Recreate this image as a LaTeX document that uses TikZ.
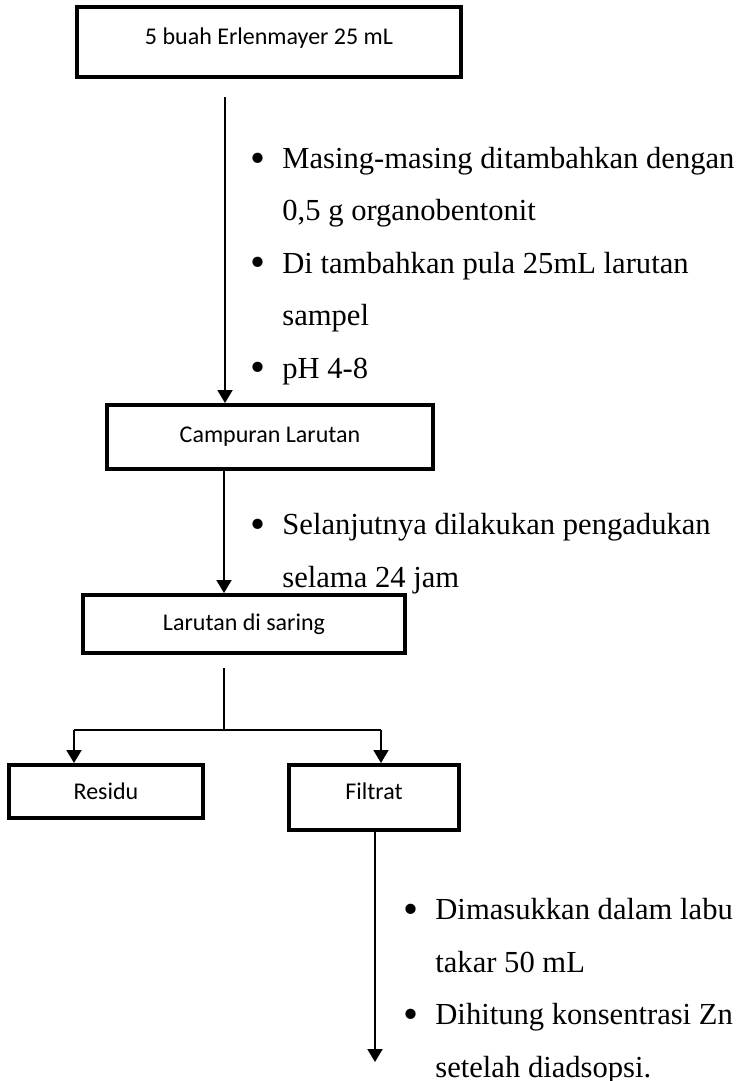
\documentclass[tikz,border=0pt]{standalone}
\usepackage{fontspec}
\setmainfont{Liberation Serif}
\newfontfamily\boxfont{Carlito}
\usetikzlibrary{arrows.meta,positioning}
\newcommand{\bul}{\makebox[16pt][l]{\raisebox{-0.12em}{\scalebox{1.4}{\textbullet}}}}
\newcommand{\ind}{\hspace*{16pt}}
\begin{document}
\begin{tikzpicture}[x=0.5pt,y=-0.5pt,>={Triangle[length=6.5pt,width=7.5pt]}]
\tikzstyle{box} = [rectangle, draw=black, line width=2pt, inner sep=0pt, text centered, font=\boxfont\fontsize{12}{14}\selectfont]
\tikzstyle{note} = [anchor=base west, align=left, inner sep=0pt, font=\fontsize{15.3}{26.2}\selectfont]
\tikzstyle{line} = [line width=1pt]
\useasboundingbox (0,0) rectangle (749,1081);
\node (erlen)[box, minimum width=192pt, minimum height=35pt, text depth=6pt] at (269,42) {5 buah Erlenmayer 25 mL};
\node (campur)[box, minimum width=163pt, minimum height=32pt] at (270,437) {Campuran Larutan};
\node (saring)[box, minimum width=161pt, minimum height=29pt] at (244,624) {Larutan di saring};
\node (residu)[box, minimum width=97pt, minimum height=26.5pt] at (106,791.5) {Residu};
\node (filtrat)[box, minimum width=85pt, minimum height=32.5pt, text depth=6pt] at (374,797.5) {Filtrat};
% keterangan (anchor = baseline of last line)
\node (ket1)[note] at (250,378) {\bul Masing-masing ditambahkan dengan\\ \ind 0,5 g organobentonit\\ \bul Di tambahkan pula 25mL larutan\\ \ind sampel\\ \bul pH 4-8};
\node (ket2)[note] at (250,587) {\bul Selanjutnya dilakukan pengadukan\\ \ind selama 24 jam};
\node (ket3)[note] at (403,1077) {\bul Dimasukkan dalam labu\\ \ind takar 50 mL\\ \bul Dihitung konsentrasi Zn\\ \ind setelah diadsopsi.};
% panah
\coordinate (a1) at (225,97);
\coordinate (a2) at (224,668);
\coordinate (split) at (224,730);
\coordinate (kiri) at (74,730);
\coordinate (kanan) at (381,730);
\coordinate (akhir) at (375,1062);
\draw [line,->] (a1) -- (a1 |- campur.north);
\draw [line,->] (campur.south -| a2) -- (saring.north -| a2);
\draw [line] (a2) -- (split);
\draw [line] (kiri) -- (kanan);
\draw [line,->] (kiri) -- (kiri |- residu.north);
\draw [line,->] (kanan) -- (kanan |- filtrat.north);
\draw [line,->] (filtrat.south -| akhir) -- (akhir);
\end{tikzpicture}
\end{document}
